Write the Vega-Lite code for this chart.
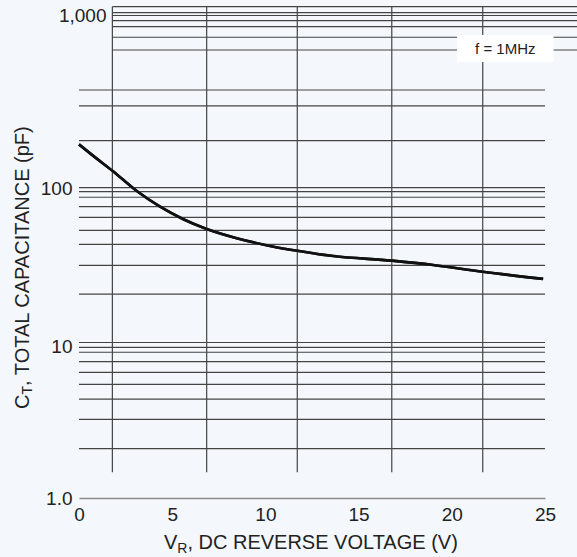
{
  "$schema": "https://vega.github.io/schema/vega-lite/v6.json",
  "width": 466,
  "height": 498,
  "autosize": {"type": "none"},
  "padding": {"left": 79, "top": 0, "right": 32, "bottom": 59},
  "background": "#f4f8fc",
  "config": {"view": {"stroke": null}, "font": "Liberation Sans"},
  "datasets": {
    "curve": [
      {"v": 0, "c": 179},
      {"v": 0.85, "c": 151},
      {"v": 1.79, "c": 126},
      {"v": 3.1, "c": 95.7},
      {"v": 4.35, "c": 76.2},
      {"v": 5.6, "c": 63.5},
      {"v": 6.85, "c": 55.1},
      {"v": 8.46, "c": 48.2},
      {"v": 10.25, "c": 43.1},
      {"v": 11.8, "c": 40.0},
      {"v": 13.64, "c": 37.2},
      {"v": 16.78, "c": 34.8},
      {"v": 19.0, "c": 32.7},
      {"v": 21.66, "c": 29.6},
      {"v": 24.9, "c": 26.7}
    ],
    "vgrid": [{"v": 1.79}, {"v": 6.85}, {"v": 11.71}, {"v": 16.78}, {"v": 21.66}],
    "hgridTop": [{"c": 1125}, {"c": 1038}, {"c": 1000}, {"c": 933}, {"c": 863}, {"c": 748}, {"c": 631}],
    "hgrid": [
      {"c": 370}, {"c": 299}, {"c": 188}, {"c": 100.4}, {"c": 94.8}, {"c": 87.4}, {"c": 76.2},
      {"c": 65.3}, {"c": 54.1}, {"c": 44.1}, {"c": 32.5}, {"c": 21.4},
      {"c": 10.6}, {"c": 9.88}, {"c": 9.16}, {"c": 7.94}, {"c": 6.74}, {"c": 5.63}, {"c": 4.5}, {"c": 3.3}, {"c": 2.12}
    ],
    "note": [{"label": "f = 1MHz", "v": 22.87, "c": 639}]
  },
  "layer": [
    {
      "data": {"name": "curve"},
      "mark": {"type": "line", "color": "#111", "strokeWidth": 2.6, "interpolate": "monotone"},
      "encoding": {
        "x": {
          "field": "v", "type": "quantitative",
          "scale": {"type": "linear", "domain": [0, 25], "nice": false, "zero": false},
          "axis": {
            "values": [0, 5, 10, 15, 20, 25], "title": null, "grid": false, "ticks": false, "tickSize": 0,
            "domain": true, "domainColor": "#8a8a8a", "domainWidth": 1.5,
            "labelFont": "Liberation Sans", "labelFontSize": 19, "labelColor": "#222", "labelPadding": 7,
            "labelFlush": false, "labelOverlap": false
          }
        },
        "y": {
          "field": "c", "type": "quantitative",
          "scale": {"type": "log", "domain": [1, 10, 100, 1000], "range": [498, 346.5, 188, 15.5], "nice": false},
          "axis": {
            "values": [1, 10, 100, 1000], "title": null, "grid": false, "ticks": false, "tickSize": 0, "domain": false,
            "labelExpr": "datum.value > 999 ? '1,000' : (datum.value < 1.5 ? '1.0' : format(datum.value, 'd'))",
            "labelFont": "Liberation Sans", "labelFontSize": 19, "labelColor": "#222",
            "labelPadding": {"condition": {"test": "datum.value > 999", "value": -27}, "value": 7},
            "labelFlush": false, "labelOverlap": false
          }
        }
      }
    },
    {
      "data": {"name": "vgrid"},
      "mark": {"type": "rule", "color": "#444", "strokeWidth": 1.2},
      "encoding": {
        "x": {"field": "v", "type": "quantitative", "title": null},
        "y": {"datum": 1.48, "type": "quantitative", "title": null},
        "y2": {"datum": 1125}
      }
    },
    {
      "data": {"name": "hgridTop"},
      "mark": {"type": "rule", "color": "#444", "strokeWidth": 1.2},
      "encoding": {
        "y": {"field": "c", "type": "quantitative", "title": null},
        "x": {"datum": 1.79, "type": "quantitative", "title": null},
        "x2": {"datum": 26.8}
      }
    },
    {
      "data": {"name": "hgrid"},
      "mark": {"type": "rule", "color": "#444", "strokeWidth": 1.2},
      "encoding": {
        "y": {"field": "c", "type": "quantitative", "title": null},
        "x": {"datum": 0, "type": "quantitative", "title": null},
        "x2": {"datum": 25}
      }
    },
    {
      "data": {"name": "curve"},
      "mark": {"type": "line", "color": "#111", "strokeWidth": 2.6, "interpolate": "monotone"},
      "encoding": {
        "x": {"field": "v", "type": "quantitative", "title": null},
        "y": {"field": "c", "type": "quantitative", "title": null}
      }
    },
    {
      "data": {"name": "note"},
      "mark": {"type": "rect", "color": "#ffffff"},
      "encoding": {
        "x": {"datum": 20.28, "type": "quantitative", "title": null},
        "x2": {"datum": 25.46},
        "y": {"datum": 771, "type": "quantitative", "title": null},
        "y2": {"datum": 538}
      }
    },
    {
      "data": {"name": "note"},
      "mark": {"type": "text", "font": "Liberation Sans", "fontSize": 15, "color": "#222", "align": "center", "baseline": "middle"},
      "encoding": {
        "x": {"field": "v", "type": "quantitative", "title": null},
        "y": {"field": "c", "type": "quantitative", "title": null},
        "text": {"field": "label"}
      }
    },
    {
      "data": {"values": [{"t": "V"}]},
      "mark": {"type": "text", "font": "Liberation Sans", "fontSize": 20, "color": "#222", "align": "left", "baseline": "alphabetic"},
      "encoding": {
        "x": {"datum": 4.56, "type": "quantitative", "title": null},
        "y": {"datum": 0.4606, "type": "quantitative", "title": null},
        "text": {"field": "t"}
      }
    },
    {
      "data": {"values": [{"t": "R"}]},
      "mark": {"type": "text", "font": "Liberation Sans", "fontSize": 14, "color": "#222", "align": "left", "baseline": "alphabetic", "dx": 13.3, "dy": 4},
      "encoding": {
        "x": {"datum": 4.56, "type": "quantitative", "title": null},
        "y": {"datum": 0.4606, "type": "quantitative", "title": null},
        "text": {"field": "t"}
      }
    },
    {
      "data": {"values": [{"t": ", DC REVERSE VOLTAGE (V)"}]},
      "mark": {"type": "text", "font": "Liberation Sans", "fontSize": 20, "color": "#222", "align": "left", "baseline": "alphabetic", "dx": 23.4},
      "encoding": {
        "x": {"datum": 4.56, "type": "quantitative", "title": null},
        "y": {"datum": 0.4606, "type": "quantitative", "title": null},
        "text": {"field": "t"}
      }
    },
    {
      "data": {"values": [{"t": "C"}]},
      "mark": {"type": "text", "font": "Liberation Sans", "fontSize": 20, "color": "#222", "align": "left", "baseline": "middle", "angle": 270},
      "encoding": {
        "x": {"datum": -3.03, "type": "quantitative", "title": null},
        "y": {"datum": 3.87, "type": "quantitative", "title": null},
        "text": {"field": "t"}
      }
    },
    {
      "data": {"values": [{"t": "T"}]},
      "mark": {"type": "text", "font": "Liberation Sans", "fontSize": 14, "color": "#222", "align": "left", "baseline": "middle", "angle": 270, "dx": 14.4, "dy": 5},
      "encoding": {
        "x": {"datum": -3.03, "type": "quantitative", "title": null},
        "y": {"datum": 3.87, "type": "quantitative", "title": null},
        "text": {"field": "t"}
      }
    },
    {
      "data": {"values": [{"t": ", TOTAL CAPACITANCE (pF)"}]},
      "mark": {"type": "text", "font": "Liberation Sans", "fontSize": 20, "color": "#222", "align": "left", "baseline": "middle", "angle": 270, "dx": 23},
      "encoding": {
        "x": {"datum": -3.03, "type": "quantitative", "title": null},
        "y": {"datum": 3.87, "type": "quantitative", "title": null},
        "text": {"field": "t"}
      }
    }
  ]
}
